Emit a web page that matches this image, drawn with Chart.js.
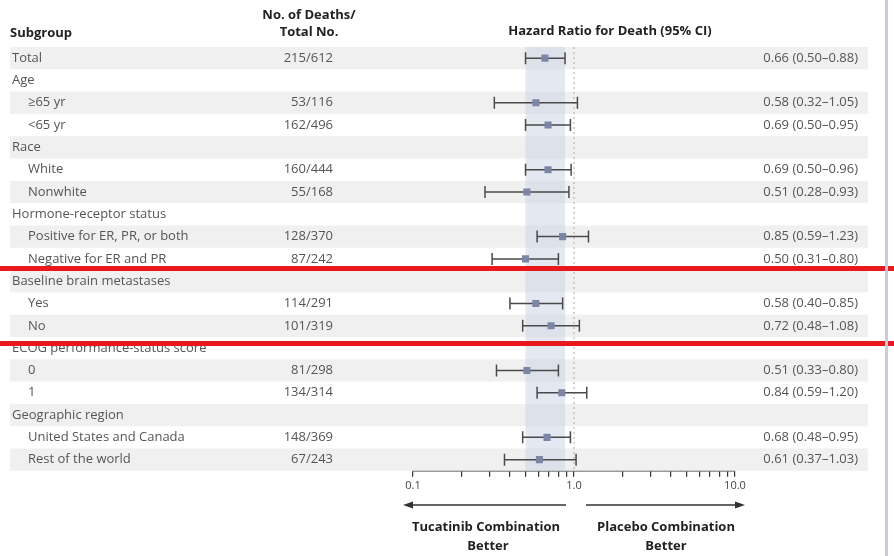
<!DOCTYPE html>
<html>
<head>
<meta charset="utf-8">
<script src="https://cdn.jsdelivr.net/npm/chart.js@4/dist/chart.umd.min.js"></script>
<style>
  html, body { margin: 0; padding: 0; background: #fff; }
  #wrap { width: 894px; height: 556px; }
</style>
</head>
<body>
<div id="wrap"><canvas id="forest" width="894" height="556"></canvas></div>
<script>
// rows of the forest plot, top to bottom
const subgroups = ['Total', 'Age', '\u226565 yr', '<65 yr', 'Race', 'White', 'Nonwhite',
  'Hormone-receptor status', 'Positive for ER, PR, or both', 'Negative for ER and PR',
  'Baseline brain metastases', 'Yes', 'No', 'ECOG performance-status score', '0', '1',
  'Geographic region', 'United States and Canada', 'Rest of the world'];
const indented = [false, false, true, true, false, true, true, false, true, true,
  false, true, true, false, true, true, false, true, true];
const deaths = ['215/612', '', '53/116', '162/496', '', '160/444', '55/168', '', '128/370', '87/242',
  '', '114/291', '101/319', '', '81/298', '134/314', '', '148/369', '67/243'];
const hr = [0.66, null, 0.58, 0.69, null, 0.69, 0.51, null, 0.85, 0.50, null, 0.58, 0.72, null, 0.51, 0.84, null, 0.68, 0.61];
const lo = [0.50, null, 0.32, 0.50, null, 0.50, 0.28, null, 0.59, 0.31, null, 0.40, 0.48, null, 0.33, 0.59, null, 0.48, 0.37];
const hi = [0.88, null, 1.05, 0.95, null, 0.96, 0.93, null, 1.23, 0.80, null, 0.85, 1.08, null, 0.80, 1.20, null, 0.95, 1.03];
const xTicks = [0.1, 0.2, 0.3, 0.4, 0.5, 0.6, 0.7, 0.8, 0.9, 1, 2, 3, 4, 5, 6, 7, 8, 9, 10];
const xLabels = { 0.1: '0.1', 1: '1.0', 10: '10.0' };

const FONT = '"Open Sans", Lato, sans-serif';

function fmt(v) { return v.toFixed(2); }

const points = [];
hr.forEach((v, i) => { if (v !== null) points.push({ x: v, y: i }); });

const forestPlugin = {
  id: 'forest',
  beforeDatasetsDraw(chart) {
    const ctx = chart.ctx;
    const xs = chart.scales.x, ys = chart.scales.y;
    const area = chart.chartArea;
    const rowH = Math.abs(ys.getPixelForValue(1) - ys.getPixelForValue(0));
    ctx.save();
    // zebra stripes
    subgroups.forEach((s, i) => {
      if (i % 2 === 0) {
        ctx.fillStyle = '#f0f0f0';
        ctx.fillRect(10, ys.getPixelForValue(i) - rowH / 2, 858, rowH);
      }
    });
    // band for the overall CI
    const bx0 = xs.getPixelForValue(lo[0]), bx1 = xs.getPixelForValue(hi[0]);
    ctx.fillStyle = 'rgba(200, 210, 228, 0.5)';
    ctx.fillRect(bx0, area.top, bx1 - bx0, area.bottom - area.top);
    // line of no effect
    const x1 = xs.getPixelForValue(1);
    ctx.strokeStyle = '#aaa';
    ctx.lineWidth = 1;
    ctx.setLineDash([2, 3]);
    ctx.beginPath();
    ctx.moveTo(x1, area.top);
    ctx.lineTo(x1, area.bottom);
    ctx.stroke();
    ctx.setLineDash([]);
    // whiskers
    ctx.strokeStyle = '#4a4a4a';
    ctx.lineWidth = 1.5;
    hr.forEach((v, i) => {
      if (v === null) return;
      const y = ys.getPixelForValue(i);
      const a = xs.getPixelForValue(lo[i]), b = xs.getPixelForValue(hi[i]);
      ctx.beginPath();
      ctx.moveTo(a, y); ctx.lineTo(b, y);
      ctx.moveTo(a, y - 6); ctx.lineTo(a, y + 6);
      ctx.moveTo(b, y - 6); ctx.lineTo(b, y + 6);
      ctx.stroke();
    });
    ctx.restore();
  },
  afterDraw(chart) {
    const ctx = chart.ctx;
    const xs = chart.scales.x, ys = chart.scales.y;
    ctx.save();
    ctx.textBaseline = 'middle';
    // headers
    ctx.fillStyle = '#222';
    ctx.font = 'bold 13px ' + FONT;
    ctx.textAlign = 'left';
    ctx.fillText('Subgroup', 10, 33);
    ctx.textAlign = 'center';
    ctx.fillText('No. of Deaths/', 309, 15);
    ctx.fillText('Total No.', 309, 32);
    ctx.fillText('Hazard Ratio for Death (95% CI)', 610, 31);
    // rows
    ctx.font = '13px ' + FONT;
    ctx.fillStyle = '#555';
    subgroups.forEach((s, i) => {
      const y = ys.getPixelForValue(i);
      ctx.textAlign = 'left';
      ctx.fillText(s, indented[i] ? 28 : 12, y);
      ctx.textAlign = 'right';
      if (deaths[i]) ctx.fillText(deaths[i], 333, y);
      if (hr[i] !== null) ctx.fillText(fmt(hr[i]) + ' (' + fmt(lo[i]) + '\u2013' + fmt(hi[i]) + ')', 858, y);
    });
    // direction arrows
    const a0 = xs.getPixelForValue(0.1), a1 = xs.getPixelForValue(1), a2 = xs.getPixelForValue(10);
    ctx.strokeStyle = '#333';
    ctx.fillStyle = '#333';
    ctx.lineWidth = 1.5;
    const ay = 505;
    ctx.beginPath();
    ctx.moveTo(a0 - 6, ay); ctx.lineTo(a1 - 8, ay);
    ctx.moveTo(a1 + 12, ay); ctx.lineTo(a2 + 6, ay);
    ctx.stroke();
    ctx.beginPath();
    ctx.moveTo(a0 - 10, ay); ctx.lineTo(a0, ay - 3.5); ctx.lineTo(a0, ay + 3.5); ctx.closePath();
    ctx.moveTo(a2 + 10, ay); ctx.lineTo(a2, ay - 3.5); ctx.lineTo(a2, ay + 3.5); ctx.closePath();
    ctx.fill();
    ctx.font = 'bold 13px ' + FONT;
    ctx.fillStyle = '#222';
    ctx.textAlign = 'center';
    ctx.fillText('Tucatinib Combination', 486, 527);
    ctx.fillText('Better', 488, 546);
    ctx.fillText('Placebo Combination', 666, 527);
    ctx.fillText('Better', 666, 546);
    // red highlight box
    ctx.fillStyle = '#e8191c';
    ctx.fillRect(0, 266, 894, 5);
    ctx.fillRect(0, 341, 894, 5);
    // right border
    ctx.fillStyle = '#c9cbdf';
    ctx.fillRect(885, 0, 3, 556);
    ctx.restore();
  }
};

new Chart(document.getElementById('forest'), {
  type: 'scatter',
  data: {
    datasets: [{
      data: points,
      pointStyle: 'rect',
      pointRadius: 5,
      backgroundColor: '#7b86a6',
      borderWidth: 0
    }]
  },
  options: {
    responsive: false,
    animation: false,
    layout: { padding: { left: 413, right: 159, top: 47, bottom: 62 } },
    plugins: { legend: { display: false }, tooltip: { enabled: false } },
    scales: {
      x: {
        type: 'logarithmic',
        min: 0.1,
        max: 10,
        position: 'bottom',
        afterBuildTicks: (s) => { s.ticks = xTicks.map(v => ({ value: v })); },
        ticks: {
          autoSkip: false,
          maxRotation: 0,
          padding: 2,
          color: '#444',
          font: { family: FONT, size: 11 },
          callback: (v) => xLabels[v] || ''
        },
        grid: { drawOnChartArea: false, tickLength: 6, color: '#333', lineWidth: 1.2 },
        border: { color: '#333', width: 1.5 }
      },
      y: { type: 'linear', min: -0.5, max: 18.5, reverse: true, display: false }
    }
  },
  plugins: [forestPlugin]
});
</script>
</body>
</html>
